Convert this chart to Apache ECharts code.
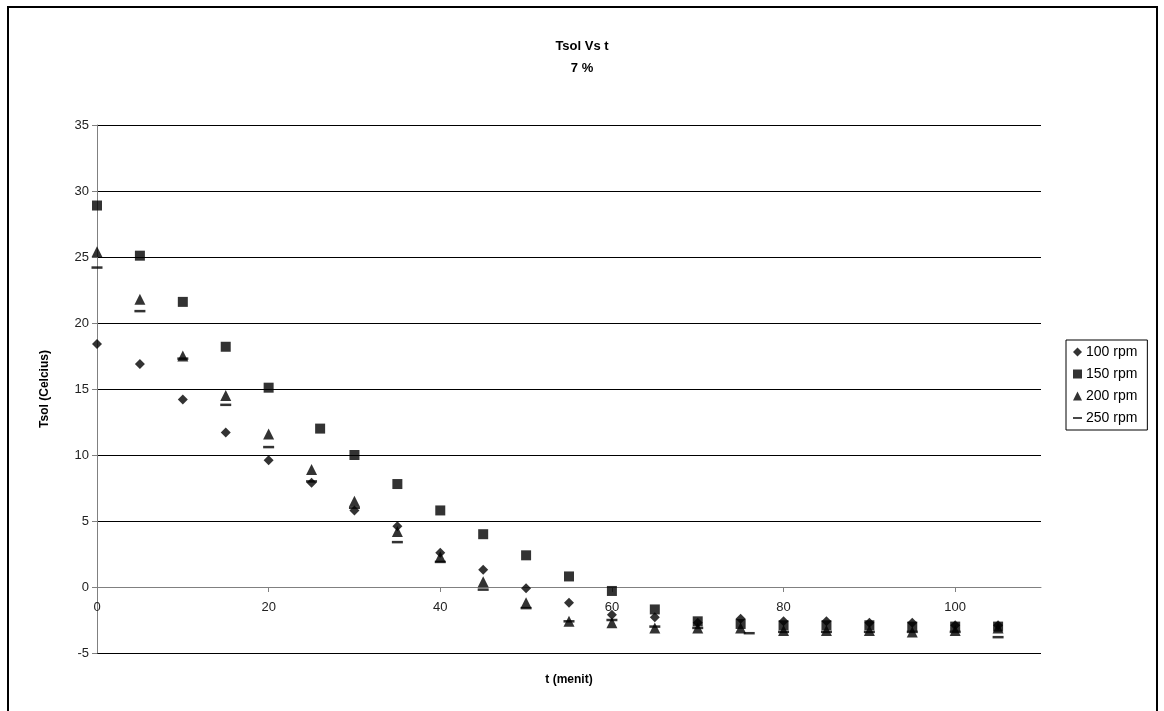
<!DOCTYPE html>
<html>
<head>
<meta charset="utf-8">
<script src="https://cdn.jsdelivr.net/npm/echarts@6/dist/echarts.min.js"></script>
<style>
html,body{margin:0;padding:0;background:#fff;}
#c{width:1164px;height:711px;}
</style>
</head>
<body>
<div id="c"></div>
<script>
// ---- Data ----
var seriesNames = ['100 rpm', '150 rpm', '200 rpm', '250 rpm'];

var t100 = [0, 5, 10, 15, 20, 25, 30, 35, 40, 45, 50, 55, 60, 65, 70, 75, 80, 85, 90, 95, 100, 105];
var v100 = [18.4, 16.9, 14.2, 11.7, 9.6, 7.9, 5.8, 4.6, 2.6, 1.3, -0.1, -1.2, -2.1, -2.3, -2.7, -2.4, -2.6, -2.6, -2.7, -2.7, -2.9, -2.9];

var t150 = [0, 5, 10, 15, 20, 26, 30, 35, 40, 45, 50, 55, 60, 65, 70, 75, 80, 85, 90, 95, 100, 105];
var v150 = [28.9, 25.1, 21.6, 18.2, 15.1, 12.0, 10.0, 7.8, 5.8, 4.0, 2.4, 0.8, -0.3, -1.7, -2.6, -2.8, -2.9, -2.9, -2.9, -3.0, -3.0, -3.0];

var t200 = [0, 5, 10, 15, 20, 25, 30, 35, 40, 45, 50, 55, 60, 65, 70, 75, 80, 85, 90, 95, 100, 105];
var v200 = [25.4, 21.8, 17.5, 14.5, 11.6, 8.9, 6.5, 4.2, 2.3, 0.4, -1.2, -2.6, -2.7, -3.1, -3.1, -3.1, -3.3, -3.3, -3.3, -3.4, -3.3, -3.1];

var t250 = [0, 5, 10, 15, 20, 25, 30, 35, 40, 45, 50, 55, 60, 65, 70, 76, 80, 85, 90, 95, 100, 105];
var v250 = [24.2, 20.9, 17.3, 13.8, 10.6, 8.0, 6.0, 3.4, 1.9, -0.2, -1.6, -2.6, -2.5, -3.0, -3.1, -3.5, -3.4, -3.4, -3.4, -3.4, -3.4, -3.8];

var xTicks = [0, 20, 40, 60, 80, 100];
var yTicks = [-5, 0, 5, 10, 15, 20, 25, 30, 35];

function pairs(ts, vs) {
  var out = [];
  for (var i = 0; i < ts.length; i++) out.push([ts[i], vs[i]]);
  return out;
}

var symbols = ['diamond', 'rect', 'triangle', 'rect'];
var sizes = [10, 10, 11, [11, 2.5]];
var legendIcons = ['diamond', 'rect', 'triangle', 'path://M0,0 L10,0 L10,2 L0,2 Z'];
var tArr = [t100, t150, t200, t250];
var vArr = [v100, v150, v200, v250];

var chart = echarts.init(document.getElementById('c'), null, {renderer: 'canvas'});
var FONT = '"Liberation Sans", Arial, sans-serif';

var series = seriesNames.map(function (n, i) {
  return {
    name: n,
    type: 'scatter',
    symbol: symbols[i],
    symbolSize: sizes[i],
    itemStyle: {color: '#000'},
    data: pairs(tArr[i], vArr[i]),
    z: 5 - i
  };
});

chart.setOption({
  animation: false,
  backgroundColor: '#fff',
  textStyle: {fontFamily: FONT},
  title: {
    text: 'Tsol Vs t\n7 %',
    left: 'center',
    top: 30,
    textStyle: {fontFamily: FONT, fontSize: 13, fontWeight: 'bold', color: '#000', lineHeight: 22}
  },
  legend: {
    orient: 'vertical',
    left: 1066,
    top: 340,
    data: seriesNames.map(function (n, i) { return {name: n, icon: legendIcons[i]}; }),
    itemWidth: 9,
    itemHeight: 9,
    itemGap: 8,
    padding: [5, 10, 5, 7],
    borderColor: '#000',
    borderWidth: 1,
    borderRadius: 0,
    textStyle: {fontFamily: FONT, fontSize: 14, color: '#000', padding: [0, 0, 0, -1]},
    selectedMode: false
  },
  grid: {left: 97, right: 123, top: 125, bottom: 58, outerBoundsMode: 'none', containLabel: false},
  xAxis: {
    type: 'value',
    min: 0, max: 110, interval: 20,
    offset: -66,
    name: 't (menit)',
    nameLocation: 'middle',
    nameGap: 87,
    nameTextStyle: {fontFamily: FONT, fontSize: 12, fontWeight: 'bold', color: '#000'},
    axisLine: {show: true, onZero: false, lineStyle: {color: '#808080', width: 1}},
    axisTick: {show: true, length: 5, customValues: xTicks, lineStyle: {color: '#808080'}},
    axisLabel: {customValues: xTicks, fontFamily: FONT, fontSize: 13, color: '#222', margin: 14},
    splitLine: {show: false}
  },
  yAxis: {
    type: 'value',
    min: -5, max: 35, interval: 5,
    name: 'Tsol (Celcius)',
    nameLocation: 'middle',
    nameGap: 46,
    nameRotate: 90,
    nameTextStyle: {fontFamily: FONT, fontSize: 12, fontWeight: 'bold', color: '#000'},
    axisLine: {show: true, lineStyle: {color: '#808080', width: 1}},
    axisTick: {show: true, length: 5, lineStyle: {color: '#808080'}},
    axisLabel: {customValues: yTicks, fontFamily: FONT, fontSize: 13, color: '#222', margin: 8},
    splitLine: {show: true, lineStyle: {color: '#000', width: 1}}
  },
  graphic: [{
    type: 'rect',
    shape: {x: 8, y: 7, width: 1149, height: 720},
    style: {fill: null, stroke: '#000', lineWidth: 2},
    silent: true,
    z: 100
  }],
  series: series
});
</script>
</body>
</html>
